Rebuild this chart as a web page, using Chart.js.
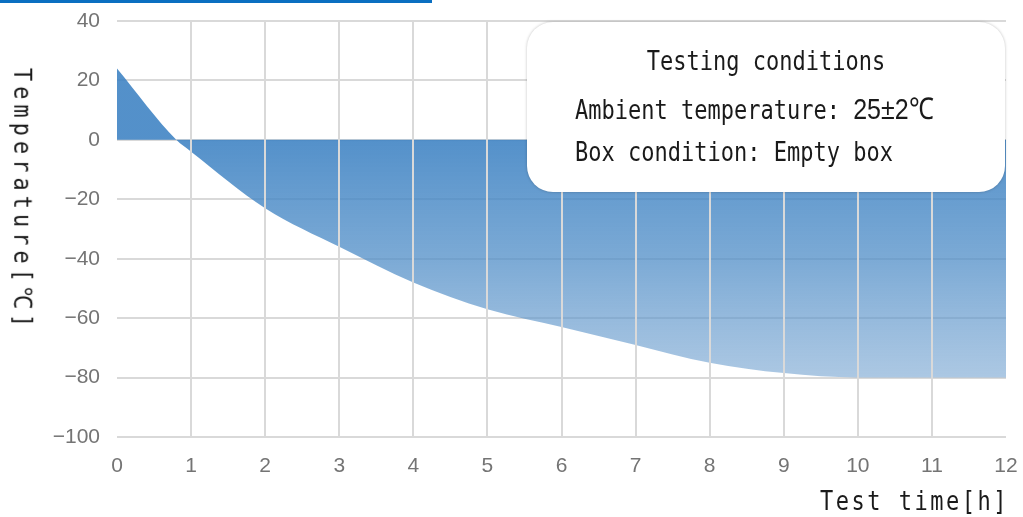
<!DOCTYPE html>
<html>
<head>
<meta charset="utf-8">
<script src="https://cdn.jsdelivr.net/npm/chart.js@4.4.1/dist/chart.umd.min.js"></script>
<style>
  body { margin: 0; background: #fff; }
  #wrap { position: relative; width: 1023px; height: 517px; overflow: hidden; }
  #topbar { position: absolute; left: 0; top: 0; width: 432px; height: 3px; background: #0a6fc1; }
  .mono { font-family: "DejaVu Sans Mono", "Liberation Mono", monospace; color: #1a1a1a; position: absolute; white-space: nowrap; }
  #ytitle { left: 25px; top: 200px; font-size: 22px; letter-spacing: 5px; transform: translate(-50%, -50%) rotate(90deg) scaleY(1.15); }
  #xtitle { right: 14px; top: 488px; font-size: 22px; letter-spacing: 2.5px; transform: scaleY(1.2); }
  #note { left: 527px; top: 22px; width: 478px; height: 170px; background: #fff; border-radius: 26px;
          box-shadow: 0 0 3px rgba(0,0,0,0.25); }
  #note .mono { font-size: 22px; transform: scaleY(1.2); transform-origin: left center; }
  #l1 { left: 0; right: 0; text-align: center; top: 26px; }
  #l2 { left: 48px; top: 68px; }
  #l3 { left: 48px; top: 117px; }
  .sans { font-family: "Liberation Sans", Arial, sans-serif; font-size: 25px; }
</style>
</head>
<body>
<div id="wrap">
  <canvas id="chart"></canvas>
  <div id="topbar"></div>
  <div id="ytitle" class="mono">Temperature[℃]</div>
  <div id="xtitle" class="mono">Test time[h]</div>
  <div id="note" style="position:absolute">
    <div id="l1" class="mono">Testing conditions</div>
    <div id="l2" class="mono">Ambient temperature: <span class="sans">25±2℃</span></div>
    <div id="l3" class="mono">Box condition: Empty box</div>
  </div>
</div>
<script>
// test time in hours and box temperature in degC
const hours = [0, 0.8, 1, 2, 3, 4, 5, 6, 7, 8, 9, 10, 11, 12];
const temps = [24, 0, -4, -23, -36, -48, -57, -63, -69, -75, -78.5, -80, -80, -80];
const yMin = -100, yMax = 40, yStep = 20;
const xMin = 0, xMax = 12;

const gridColor = '#d9d9d9';
const tickFont = { family: '"Liberation Sans", Arial, sans-serif', size: 21 };

function fillGradient(context) {
  const { ctx, chartArea, scales } = context.chart;
  if (!chartArea) return 'rgba(62,130,194,0.85)';
  const y0 = scales.y.getPixelForValue(0);
  const y1 = scales.y.getPixelForValue(-80);
  const g = ctx.createLinearGradient(0, y0, 0, y1);
  g.addColorStop(0, 'rgba(58,128,194,0.87)');
  g.addColorStop(0.5, 'rgba(82,143,200,0.76)');
  g.addColorStop(1, 'rgba(112,160,207,0.58)');
  return g;
}

new Chart(document.getElementById('chart'), {
  type: 'line',
  data: {
    datasets: [{
      data: hours.map((h, i) => ({ x: h, y: temps[i] })),
      fill: 'origin',
      backgroundColor: fillGradient,
      borderWidth: 0,
      borderColor: 'transparent',
      pointRadius: 0,
      cubicInterpolationMode: 'monotone'
    }]
  },
  options: {
    responsive: true,
    maintainAspectRatio: false,
    animation: false,
    layout: { padding: { left: 0, right: 17, top: 21, bottom: 0 } },
    plugins: { legend: { display: false }, tooltip: { enabled: false } },
    scales: {
      x: {
        type: 'linear',
        min: xMin, max: xMax,
        afterFit: s => { s.height = 80; s.paddingLeft = 0; s.paddingRight = 0; },
        border: { display: false },
        grid: {
          z: 1,
          lineWidth: 2,
          drawTicks: false,
          color: c => (c.tick.value === xMin || c.tick.value === xMax) ? 'transparent' : gridColor
        },
        ticks: { stepSize: 1, padding: 17, color: '#747474', font: tickFont }
      },
      y: {
        min: yMin, max: yMax,
        afterFit: s => { s.width = 117; s.paddingTop = 0; s.paddingBottom = 0; },
        border: { display: false },
        grid: { lineWidth: 2, drawTicks: false, color: gridColor },
        ticks: {
          stepSize: yStep, padding: 17, color: '#747474', font: tickFont,
          callback: v => String(v).replace('-', '\u2212')
        }
      }
    }
  }
});
</script>
</body>
</html>
